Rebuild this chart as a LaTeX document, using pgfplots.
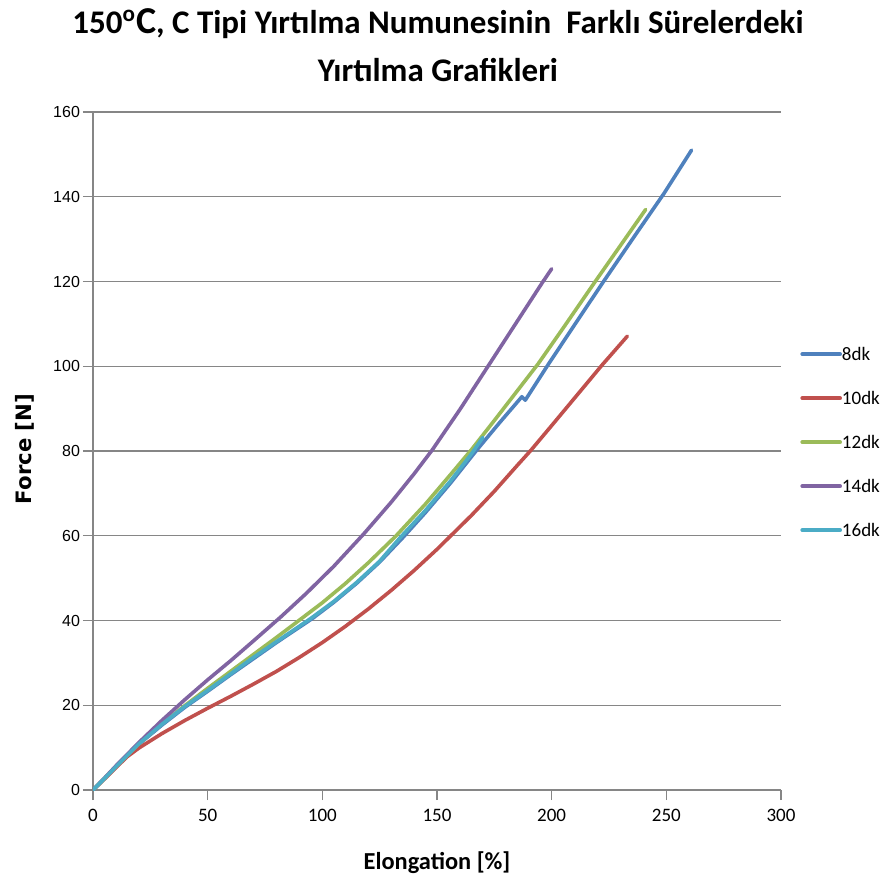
\documentclass[border=0pt]{standalone}
\usepackage{fontspec}
\setmainfont{Carlito}
\newfontfamily\dejavu{DejaVu Sans}
\newfontfamily\arial{Liberation Sans}
\usepackage{pgfplots}
\pgfplotsset{compat=1.18}
\definecolor{c8}{HTML}{4F81BD}
\definecolor{c10}{HTML}{C0504D}
\definecolor{c12}{HTML}{9BBB59}
\definecolor{c14}{HTML}{8064A2}
\definecolor{c16}{HTML}{4BACC6}
\definecolor{axgray}{HTML}{868686}
\begin{document}
\begin{tikzpicture}
\path[use as bounding box] (0pt,0pt) rectangle (440pt,-441.5pt);
\node[font=\bfseries\fontsize{16.5}{20}\selectfont] at (219pt,-12pt) {150\textsuperscript{o}{\fontsize{19}{20}\selectfont C}, C Tipi Yırtılma Numunesinin\ \ Farklı Sürelerdeki};
\node[font=\bfseries\fontsize{16.5}{20}\selectfont] at (219pt,-35pt) {Yırtılma Grafikleri};
\begin{axis}[
  at={(46.5pt,-395pt)}, anchor=south west,
  scale only axis, width=344pt, height=339pt,
  xmin=0, xmax=300, ymin=0, ymax=160,
  xtick={0,50,...,300}, ytick={0,20,...,160},
  axis x line*=bottom, axis y line*=left,
  axis line style={color=axgray, line width=0.7pt},
  ymajorgrids, grid style={color=axgray, line width=0.7pt},
  tick align=outside, major tick length=5pt,
  tick style={color=axgray, line width=0.7pt},
  /pgf/number format/assume math mode=true,
  xticklabel style={font=\fontsize{9.5}{10}\selectfont, yshift=-1pt},
  yticklabel style={font=\arial\fontsize{8}{9}\selectfont, xshift=2pt},
  xlabel={Elongation [\%]},
  ylabel={Force [N]},
  xlabel style={font=\bfseries\fontsize{12.2}{14}\selectfont, at={(axis description cs:0.5,-0.107)}, anchor=center},
  ylabel style={font=\dejavu\bfseries\fontsize{10.6}{12}\selectfont, at={(axis description cs:-0.0996,0.503)}, anchor=center, rotate=0},
  legend style={at={(axis description cs:1.0276,0.513)}, anchor=west, draw=none, fill=none,
    inner sep=0pt, row sep=16pt, column sep=0pt,
    nodes={inner sep=0pt, text height=6pt, text depth=0pt},
    font=\fontsize{9.5}{10}\selectfont},
  legend cell align=left,
  legend image code/.code={\draw[#1] (0pt,0pt) -- (19pt,0pt);},
  every axis plot/.append style={line width=1.8pt, line join=round, line cap=round},
]
\addplot[c8] coordinates {(0,0)(5,2.7)(10,5.4)(20,10.8)(30,15.3)(40,19.5)(50,23.3)(60,27.2)(70,31)(80,34.8)(96,40.6)(105,44.3)(115,48.8)(125,53.8)(135,59.5)(145,65.5)(156,72.5)(167,80)(177,86.5)(187,92.8)(188.5,92)(198,100)(210,109.8)(223,120.3)(236,130.6)(249,140.8)(261,151)};
\addlegendentry{8dk}
\addplot[c10] coordinates {(0,0)(5,2.6)(10,5.3)(15,7.9)(20,9.9)(30,13.3)(40,16.4)(50,19.3)(60,22.1)(70,25)(80,28)(90,31.3)(100,34.8)(110,38.6)(120,42.7)(130,47.1)(140,51.8)(150,56.8)(156,60)(165,64.8)(175,70.5)(185,76.6)(191,80.2)(200,86)(210,92.5)(222,100.3)(233,107.1)};
\addlegendentry{10dk}
\addplot[c12] coordinates {(0,0)(5,2.7)(10,5.5)(20,10.9)(30,15.6)(40,19.9)(50,24)(60,28)(70,32)(80,36)(91,40.5)(100,44.2)(110,48.7)(120,53.6)(132,59.9)(145,67.5)(156,74.5)(165,80.3)(175,87.2)(185,94.2)(194,100.5)(205,109)(219,120)(230,128.5)(241,137)};
\addlegendentry{12dk}
\addplot[c14] coordinates {(0,0)(5,2.8)(10,5.7)(20,11.2)(30,16.4)(40,21.3)(50,26)(60,30.5)(70,35.2)(82,40.9)(93,46.4)(105,52.8)(118,60.4)(130,67.9)(140,74.6)(148,80.3)(160,89.8)(172,99.8)(184,109.8)(196,119.8)(200,123)};
\addlegendentry{14dk}
\addplot[c16] coordinates {(0,0)(5,2.7)(10,5.5)(20,10.9)(30,15.5)(40,19.7)(50,23.5)(60,27.4)(70,31.3)(80,35)(95,40.5)(105,44.5)(115,49)(125,54)(134,59.6)(145,66)(156,73)(165,79.3)(170,83.2)};
\addlegendentry{16dk}
\end{axis}
\end{tikzpicture}
\end{document}
